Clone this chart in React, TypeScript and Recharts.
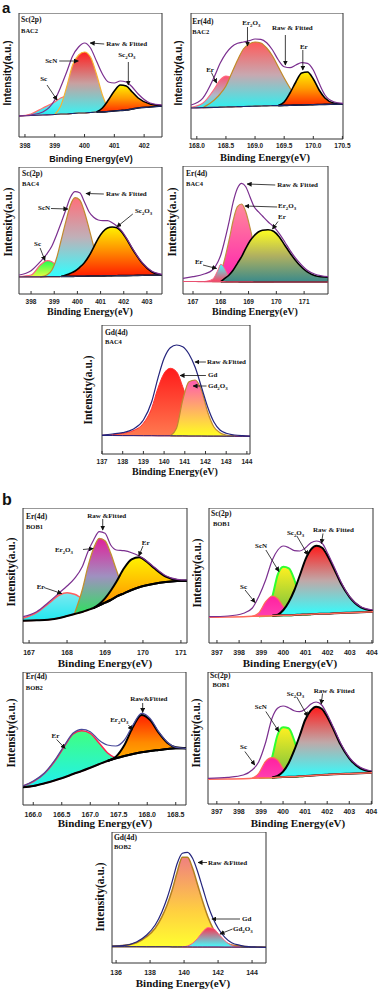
import React from "react";
import { ComposedChart, Area, Line, XAxis, YAxis, ReferenceArea, ReferenceLine, ReferenceDot } from "recharts";

const SERIF = "'Liberation Serif', 'Times New Roman', serif";
const SANS = "'Liberation Sans', Arial, sans-serif";
const N = null;

// a: Sc(2p) BAC2
const a1E = [397.8, 398.2, 398.6, 399.0, 399.2, 399.4, 399.6, 399.8, 400.0, 400.2, 400.4, 400.6, 400.8, 401.0, 401.2, 401.4, 401.6, 401.8, 402.2, 402.6];
const a1Bg = [21, 21.5, 22, 22.5, 23, 23, 23.5, 24, 24, 24.5, 25, 25, 25.5, 26, 26.5, 27, 28, 29, 30, 31];
const a1Sc = [21, 23, 29, 35, 39, 41, 39, 37, 33, 30, 27, 25, N, N, N, N, N, N, N, N];
const a1ScN = [N, N, N, 22.5, 31, 50, 72, 82, 85, 80, 63, 42, 29, 26, N, N, N, N, N, N];
const a1Sc2O3 = [N, N, N, N, N, N, N, N, N, N, 25, 29, 37, 46, 52, 51, 45, 39, 33, 31.5];
const a1Env = [21, 22, 25, 37, 50, 65, 81, 90, 94, 89, 76, 63, 55, 54, 56, 55, 50, 43, 34, 32];

// a: Er(4d) BAC2
const a2E = [167.9, 168.1, 168.3, 168.4, 168.5, 168.6, 168.7, 168.8, 168.9, 169.0, 169.1, 169.2, 169.3, 169.4, 169.5, 169.6, 169.7, 169.8, 169.9, 170.0, 170.1, 170.2, 170.35, 170.51];
const a2Bg = [31, 31.3, 31.6, 31.8, 32, 32.2, 32.3, 32.5, 32.7, 32.8, 33, 33.1, 33.3, 33.4, 33.6, 33.7, 33.9, 34, 34.2, 34.3, 34.5, 34.6, 34.8, 35];
const a2ErA = [31.7, 35.7, 50, 59, 63, 61, 53, 44, 37, 34, 33, N, N, N, N, N, N, N, N, N, N, N, N, N];
const a2Er2O3 = [N, 31.3, 39, 45, 53, 66, 79, 90, 95, 97, 96, 91, 83, 72, 61, 51, 42, 37, 35, 34.3, N, N, N, N];
const a2ErB = [N, N, N, N, N, N, N, N, N, N, N, N, N, 33.4, 37, 46, 57, 66, 67, 60, 49, 41, 36, 35];
const a2Env = [34, 40.7, 62.3, 75.7, 85.7, 92.3, 95.7, 97, 98.3, 100, 99.7, 96.3, 89, 79, 72.3, 71.3, 74, 76.3, 75.7, 69, 55.7, 44, 37.3, 35.7];

// a: Sc(2p) BAC4
const a3E = [397.48, 398.0, 398.4, 398.7, 398.9, 399.1, 399.3, 399.5, 399.7, 399.9, 400.1, 400.3, 400.5, 400.7, 400.9, 401.1, 401.3, 401.5, 401.7, 401.9, 402.1, 402.4, 402.8, 403.2, 403.65];
const a3Bg = [17, 17.1, 17.2, 17.3, 17.4, 17.4, 17.5, 17.6, 17.6, 17.7, 17.8, 17.8, 17.9, 18, 18, 18.1, 18.2, 18.2, 18.3, 18.4, 18.4, 18.5, 18.7, 18.8, 19];
const a3Sc = [17.5, 19, 29, 33.3, 32.3, 28, 22.3, 19, 17.6, N, N, N, N, N, N, N, N, N, N, N, N, N, N, N, N];
const a3ScN = [N, N, 17.2, 19.3, 24, 35.7, 54, 72.3, 89, 96.3, 94, 82.3, 65.7, 48, 34, 24, 19.7, 18.2, N, N, N, N, N, N, N];
const a3Sc2O3 = [N, N, N, N, N, N, 17.5, 19, 20.7, 23, 26.7, 31.3, 38, 46.7, 55.7, 62.3, 66, 67, 66.3, 62.3, 55.7, 44, 30.7, 22.3, 19];
const a3Env = [19, 23.3, 32.3, 40.7, 48, 59, 71.3, 84, 96.7, 102.3, 101.3, 92.3, 82.3, 76.7, 74, 73.3, 73.3, 71.3, 68, 63.3, 56.7, 44.7, 31.3, 23, 19.7];

// a: Er(4d) BAC4
const a4E = [166.64, 167.0, 167.4, 167.7, 167.9, 168.0, 168.1, 168.3, 168.45, 168.6, 168.75, 168.9, 169.05, 169.2, 169.35, 169.5, 169.7, 169.9, 170.1, 170.3, 170.5, 170.8, 171.1, 171.4, 171.86];
const a4Bg = [12.5, 12.5, 12.4, 12.4, 12.3, 12.3, 12.3, 12.2, 12.2, 12.2, 12.1, 12.1, 12.1, 12, 12, 12, 12, 12, 12, 12, 12, 12, 12, 12, 12];
const a4ErA = [N, N, 12.4, 14.7, 24, 29.7, 27.3, 17.3, 12.2, N, N, N, N, N, N, N, N, N, N, N, N, N, N, N, N];
const a4Er2O3 = [N, N, N, 12.4, 16.7, 22.3, 30.7, 54, 74, 87.3, 90, 82.3, 66.7, 48, 31.3, 20.7, 14.7, 12, N, N, N, N, N, N, N];
const a4ErB = [N, N, N, N, N, 12.3, 14.7, 19, 24, 30.7, 37.3, 45.7, 53, 58.3, 62, 63.7, 64.3, 62.7, 57.3, 49, 40.7, 30, 22.3, 18.3, 16.7];
const a4Env = [15.7, 17.3, 20, 24, 32.3, 39, 49, 72.3, 92.3, 105.7, 110.7, 107.3, 97.3, 87.3, 82.3, 78, 72.3, 67.3, 60.7, 52.3, 43.3, 32.3, 24, 19.7, 17.3];

// a: Gd(4d) BAC4
const a5E = [137.0, 137.5, 138.0, 138.5, 139.0, 139.4, 139.7, 140.0, 140.3, 140.6, 140.9, 141.2, 141.5, 141.8, 142.1, 142.4, 142.7, 143.0, 143.4, 143.8, 144.15];
const a5Bg = [18.5, 18.5, 18.4, 18.4, 18.3, 18.3, 18.2, 18.2, 18.2, 18.1, 18.1, 18, 18, 18, 17.9, 17.9, 17.9, 17.8, 17.8, 17.7, 17.7];
const a5Gd = [18.7, 19.3, 20.7, 23.3, 30.7, 45.7, 65.7, 80.7, 85.7, 82.3, 67.3, 48, 34, 25.7, 21.7, 20, 19, 18.3, 17.9, 17.8, 17.7];
const a5Gd2O3 = [N, N, N, N, N, N, N, N, 18.2, 25.7, 54, 72.3, 74, 64, 42.3, 27.3, 21.3, 19, 17.8, N, N];
const a5Env = [19, 20, 21.3, 24.7, 34, 52.3, 75.7, 95.7, 106.3, 109, 107.3, 100, 86.7, 67.3, 47.3, 32.3, 24, 20.7, 19, 18.3, 18];

// b: Er(4d) BOB1
const b1E = [166.84, 167.2, 167.5, 167.8, 168.0, 168.2, 168.4, 168.55, 168.7, 168.85, 169.0, 169.15, 169.3, 169.5, 169.7, 169.9, 170.1, 170.3, 170.6, 170.9, 171.16];
const b1Bg = [22.3, 22.7, 23.3, 25, 27, 29, 31, 33, 35, 37.7, 40.3, 43, 46.3, 49.7, 53, 55.7, 57.7, 59.3, 61, 62, 62.3];
const b1ErA = [24.7, 30.3, 39, 48, 50.3, 48.7, 44.7, 42.3, 40.3, 37.7, N, N, N, N, N, N, N, N, N, N, N];
const b1Er2O3 = [N, N, N, N, N, 29.7, 53, 76.3, 94.7, 104.7, 102.3, 89.7, 73, 54.7, 53, N, N, N, N, N, N];
const b1ErB = [N, N, N, N, N, N, N, N, 35, 39, 44.7, 52.3, 61.3, 74.7, 83.7, 85.7, 81.3, 74.7, 66.3, 63, 62.3];
const b1Env = [26.3, 31.3, 40.3, 50.3, 57, 64.7, 76.3, 91.3, 103, 111.3, 109.7, 98, 93, 92.3, 90.3, 87, 82, 75.7, 67.3, 63.7, 63];

// b: Sc(2p) BOB1 (upper)
const b2E = [396.64, 397.5, 398.2, 398.6, 398.9, 399.2, 399.5, 399.75, 400.0, 400.25, 400.5, 400.75, 401.0, 401.25, 401.5, 401.75, 402.0, 402.3, 402.6, 403.0, 403.5, 404.05];
const b2Bg = [25.7, 26, 26.3, 26.7, 26.8, 27, 27.3, 27.5, 27.7, 27.8, 28, 28.3, 28.5, 28.7, 29, 29.2, 29.3, 29.7, 30, 30.3, 30.7, 31.3];
const b2Sc = [N, N, N, 26.7, 30.3, 41.3, 47, 44.3, 36.3, 30.3, 28, N, N, N, N, N, N, N, N, N, N, N];
const b2ScN = [N, N, N, N, 26.8, 28.7, 46.3, 68.7, 76.3, 74.7, 63, 44.7, 32, 28.7, N, N, N, N, N, N, N, N];
const b2Sc2O3 = [N, N, N, N, N, N, 27.3, 28.3, 33, 41.3, 53, 68, 83.7, 93.7, 97.3, 95.3, 87, 73.7, 59.7, 45.7, 35.7, 32.3];
const b2Env = [26.3, 27, 29.7, 35, 47, 63, 83, 93, 97, 95.3, 92.3, 92, 95.3, 100.3, 102, 99.7, 89.7, 75.7, 61.3, 46.3, 36.3, 33];

// b: Er(4d) BOB2
const b3E = [165.82, 166.0, 166.2, 166.4, 166.55, 166.7, 166.85, 167.0, 167.15, 167.3, 167.45, 167.6, 167.75, 167.9, 168.05, 168.2, 168.35, 168.5, 168.68];
const b3Bg = [17.7, 19, 21.7, 25, 27.7, 31, 34, 37.3, 40.7, 44, 46.7, 49, 51, 52.7, 54, 55, 56, 56.7, 56.7];
const b3Er = [19, 23.3, 31.7, 45.7, 59, 71, 74.3, 71.7, 62.3, 52.3, 46.7, N, N, N, N, N, N, N, N];
const b3Er2O3 = [N, N, N, N, N, N, N, N, N, 44, 48.3, 60, 78.3, 90, 85, 72.3, 62.3, 57.7, 56.7];
const b3Env = [19, 24, 32.3, 46.7, 60, 72, 75.7, 73.3, 65, 60, 59, 65, 80, 91.7, 86.7, 73.3, 63, 57.7, 56.7];

// b: Sc(2p) BOB1 (lower)
const b4E = [396.6, 397.5, 398.2, 398.6, 398.9, 399.2, 399.5, 399.75, 400.0, 400.25, 400.5, 400.75, 401.0, 401.25, 401.5, 401.75, 402.0, 402.3, 402.6, 403.0, 403.5, 404.03];
const b4Bg = [24.7, 25, 25.3, 25.7, 26, 26.2, 26.3, 26.7, 27, 27.2, 27.3, 27.7, 28, 28.3, 28.7, 29, 29.3, 29.7, 30, 30.3, 30.7, 31.3];
const b4Sc = [N, N, N, 25.7, 30.7, 42.3, 46.3, 44, 35.7, 29.7, 27.3, N, N, N, N, N, N, N, N, N, N, N];
const b4ScN = [N, N, N, N, 26, 28, 46.3, 69, 76.7, 75.7, 64, 45.7, 32.3, 28.3, N, N, N, N, N, N, N, N];
const b4Sc2O3 = [N, N, N, N, N, N, 26.3, 28, 32.3, 40.7, 53.3, 68, 84, 93.3, 97.3, 95.3, 87.3, 74, 59.7, 45.7, 35.7, 32.3];
const b4Env = [25.7, 26.7, 29, 34, 42.3, 60.7, 85.7, 95.7, 98, 96.3, 93.3, 92.3, 94.7, 99.7, 102, 99, 89.7, 75.7, 61.3, 46.7, 36.7, 33];

// b: Gd(4d) BOB2
const b5E = [135.76, 136.5, 137.2, 137.8, 138.3, 138.7, 139.0, 139.3, 139.6, 139.9, 140.2, 140.5, 140.8, 141.1, 141.4, 141.7, 142.0, 142.4, 142.8, 143.3, 143.8, 144.3, 144.82];
const b5Bg = [16.3, 16.3, 16.3, 16.2, 16.2, 16.2, 16.2, 16.1, 16.1, 16.1, 16.1, 16, 16, 16, 16, 16, 16, 15.9, 15.9, 15.9, 15.8, 15.8, 15.7];
const b5Gd = [17, 17.7, 20.3, 26.3, 34.7, 46.3, 58, 73, 91.3, 105.7, 105.7, 94.7, 78, 61.3, 46.3, 34.7, 26.3, 20.3, 18, 17, 16.3, 15.9, 15.7];
const b5Gd2O3 = [N, N, N, N, N, N, N, N, N, 16.1, 17, 19.7, 24.7, 31.3, 35.3, 34.7, 29.7, 22.3, 17.7, 15.9, N, N, N];
const b5Env = [17, 17.7, 21, 28, 38, 51.3, 64.7, 81.3, 99.7, 109.7, 110.7, 104.7, 91.3, 74.7, 58, 44.7, 34.7, 25.7, 20.3, 17.7, 16.3, 16, 15.7];

const ticksA1 = [398, 399, 400, 401, 402];
const ticksA2 = [168, 168.5, 169, 169.5, 170, 170.5];
const ticksA3 = [398, 399, 400, 401, 402, 403];
const ticksA4 = [167, 168, 169, 170, 171];
const ticksA5 = [137, 138, 139, 140, 141, 142, 143, 144];
const ticksB1 = [167, 168, 169, 170, 171];
const ticksSc = [397, 398, 399, 400, 401, 402, 403, 404];
const ticksB3 = [166, 166.5, 167, 167.5, 168, 168.5];
const ticksB5 = [136, 138, 140, 142, 144];

type Comp = { key: string; values: (number | null)[]; stroke: string; width: number; stops: [number, string][] };
type Note = { t: string; x: number; y: number; chem?: boolean; size?: number };
type Panel = {
  id: string; left: number; top: number; width: number; height: number;
  domain: [number, number]; ticks: number[]; digits: number; tickGap: number; tickFont: number;
  energy: number[]; bg: number[]; bgStroke: string; bgWidth: number;
  env: number[]; envStroke: string; comps: Comp[]; notes: Note[]; arrows: number[][];
};

const PURPLE = "#7b2f8f";
const NAVY = "#24247c";
const yellowRed: [number, string][] = [[0, "#fff200"], [0.5, "#ff9a00"], [1, "#ff2a00"]];

const panels: Panel[] = [
  {
    id: "a1", left: 19, top: 13, width: 143, height: 124, domain: [397.8, 402.6], ticks: ticksA1, digits: 0, tickGap: 8, tickFont: 6.5,
    energy: a1E, bg: a1Bg, bgStroke: "#1c2a6a", bgWidth: 1.2, env: a1Env, envStroke: PURPLE,
    comps: [
      { key: "sc", values: a1Sc, stroke: "#ff6f6f", width: 1.2, stops: [[0, "#7ef4f4"], [1, "#22e8f0"]] },
      { key: "scn", values: a1ScN, stroke: "#f5b335", width: 1.2, stops: [[0, "#ff1f1f"], [0.5, "#c8a0a0"], [1, "#3af2f2"]] },
      { key: "ox", values: a1Sc2O3, stroke: "#000", width: 1.6, stops: yellowRed },
    ],
    notes: [
      { t: "Sc(2p)", x: 397.87, y: 118, size: 7.5 }, { t: "BAC2", x: 397.87, y: 107, size: 6.5 },
      { t: "Raw & Fitted", x: 400.73, y: 93 }, { t: "ScN", x: 398.68, y: 76 }, { t: "Sc", x: 398.51, y: 58 },
      { t: "Sc2O3", x: 401.13, y: 82, chem: true },
    ],
    arrows: [[400.66, 93, 400.19, 94], [399.15, 76, 399.79, 76], [398.74, 52, 399.08, 37], [401.47, 75, 401.47, 52]],
  },
  {
    id: "a2", left: 191, top: 13, width: 152, height: 126, domain: [167.9, 170.51], ticks: ticksA2, digits: 1, tickGap: 6.5, tickFont: 6.5,
    energy: a2E, bg: a2Bg, bgStroke: "#1c2a6a", bgWidth: 1.2, env: a2Env, envStroke: PURPLE,
    comps: [
      { key: "era", values: a2ErA, stroke: "#ff6a80", width: 1.2, stops: [[0, "#ff5070"], [0.6, "#b0b8c8"], [1, "#2ff0f0"]] },
      { key: "ox", values: a2Er2O3, stroke: "#c08a28", width: 1.2, stops: [[0, "#ff5a5a"], [0.5, "#c8a8b0"], [1, "#2ff0f0"]] },
      { key: "erb", values: a2ErB, stroke: "#000", width: 1.6, stops: yellowRed },
    ],
    notes: [
      { t: "Er(4d)", x: 167.92, y: 118, size: 7.5 }, { t: "BAC2", x: 167.92, y: 108, size: 6.5 },
      { t: "Er2O3", x: 168.78, y: 116.3, chem: true }, { t: "Raw & Fitted", x: 169.29, y: 111 },
      { t: "Er", x: 169.77, y: 92 }, { t: "Er", x: 168.16, y: 69 },
    ],
    arrows: [[168.87, 112, 168.87, 93], [169.52, 104, 169.52, 74], [169.82, 89, 169.82, 69], [168.25, 66.5, 168.34, 56]],
  },
  {
    id: "a3", left: 19, top: 167, width: 143, height: 127, domain: [397.48, 403.65], ticks: ticksA3, digits: 0, tickGap: 7, tickFont: 6.5,
    energy: a3E, bg: a3Bg, bgStroke: "#30305a", bgWidth: 1.2, env: a3Env, envStroke: PURPLE,
    comps: [
      { key: "sc", values: a3Sc, stroke: "#ff6080", width: 1.2, stops: [[0, "#20ff50"], [1, "#e8ff40"]] },
      { key: "scn", values: a3ScN, stroke: "#c08a30", width: 1.2, stops: [[0, "#ff6f7a"], [0.5, "#c0b0b8"], [1, "#30ffff"]] },
      { key: "ox", values: a3Sc2O3, stroke: "#000", width: 1.6, stops: [[0, "#fff200"], [0.5, "#ff8a00"], [1, "#ff1a00"]] },
    ],
    notes: [
      { t: "Sc(2p)", x: 397.61, y: 121, size: 7.5 }, { t: "BAC4", x: 397.61, y: 111, size: 6.5 },
      { t: "Raw & Fitted", x: 401.23, y: 100 }, { t: "ScN", x: 398.3, y: 86 },
      { t: "Sc2O3", x: 402.48, y: 83, chem: true }, { t: "Sc", x: 398.13, y: 50 },
    ],
    arrows: [[401.14, 100, 400.37, 100.5], [398.86, 85.5, 399.59, 85], [402.39, 80, 401.7, 67], [398.39, 46, 398.6, 33.5]],
  },
  {
    id: "a4", left: 183, top: 166, width: 145, height: 128, domain: [166.64, 171.86], ticks: ticksA4, digits: 0, tickGap: 7.5, tickFont: 6.5,
    energy: a4E, bg: a4Bg, bgStroke: "#e85070", bgWidth: 1.2, env: a4Env, envStroke: PURPLE,
    comps: [
      { key: "ox", values: a4Er2O3, stroke: "#c09040", width: 1.2, stops: [[0, "#ff8a9a"], [1, "#ff20b0"]] },
      { key: "era", values: a4ErA, stroke: "#ff6080", width: 1, stops: [[0, "#40ffff"], [1, "#ff4060"]] },
      { key: "erb", values: a4ErB, stroke: "#000", width: 1.6, stops: [[0, "#ffff20"], [0.5, "#b0b060"], [1, "#3a8a8a"]] },
    ],
    notes: [
      { t: "Er(4d)", x: 166.75, y: 121, size: 7.5 }, { t: "BAC4", x: 166.75, y: 111, size: 6.5 },
      { t: "Raw & Fitted", x: 170.03, y: 109 }, { t: "Er2O3", x: 170.06, y: 88, chem: true },
      { t: "Er", x: 170.06, y: 77 }, { t: "Er", x: 167.07, y: 32 },
    ],
    arrows: [[169.96, 109, 168.95, 110], [170.03, 87, 168.87, 88], [170.06, 72.5, 169.86, 65], [167.36, 29, 167.85, 25.5]],
  },
  {
    id: "a5", left: 102, top: 325, width: 148, height: 129, domain: [137, 144.15], ticks: ticksA5, digits: 0, tickGap: 7, tickFont: 6.5,
    energy: a5E, bg: a5Bg, bgStroke: NAVY, bgWidth: 1, env: a5Env, envStroke: NAVY,
    comps: [
      { key: "gd", values: a5Gd, stroke: "#ff3030", width: 1, stops: [[0, "#ff1a1a"], [1, "#ff7a50"]] },
      { key: "ox", values: a5Gd2O3, stroke: "#c08a30", width: 1.2, stops: [[0, "#ff5ab0"], [1, "#ffff20"]] },
    ],
    notes: [
      { t: "Gd(4d)", x: 137.14, y: 122, size: 7.5 }, { t: "BAC4", x: 137.14, y: 113, size: 6.5 },
      { t: "Raw &Fitted", x: 142.07, y: 92 }, { t: "Gd", x: 142.12, y: 79 }, { t: "Gd2O3", x: 142.12, y: 68, chem: true },
    ],
    arrows: [[142.02, 92, 141.49, 92], [142.02, 78.5, 140.77, 78.5], [142.05, 68, 141.4, 68]],
  },
  {
    id: "b1", left: 23, top: 508, width: 164, height: 135, domain: [166.84, 171.16], ticks: ticksB1, digits: 0, tickGap: 9, tickFont: 7,
    energy: b1E, bg: b1Bg, bgStroke: "#000", bgWidth: 2, env: b1Env, envStroke: PURPLE,
    comps: [
      { key: "era", values: b1ErA, stroke: "#ff6060", width: 1.5, stops: [[0, "#7ee8f0"], [1, "#20e8f0"]] },
      { key: "ox", values: b1Er2O3, stroke: "#c09030", width: 1.3, stops: [[0, "#e0209a"], [0.5, "#a090c0"], [1, "#30e060"]] },
      { key: "erb", values: b1ErB, stroke: "#000", width: 2, stops: [[0, "#fff200"], [1, "#ff8a00"]] },
    ],
    notes: [
      { t: "Er(4d)", x: 166.92, y: 127, size: 7.5 }, { t: "BOB1", x: 166.92, y: 117, size: 6.5 },
      { t: "Raw &Fitted", x: 168.53, y: 127 }, { t: "Er2O3", x: 167.68, y: 93, chem: true },
      { t: "Er", x: 169.97, y: 100 }, { t: "Er", x: 167.2, y: 56 },
    ],
    arrows: [[168.94, 124, 168.94, 113], [168.42, 93.5, 168.69, 94.5], [170.0, 97, 169.89, 87], [167.39, 55.5, 167.86, 49.5]],
  },
  {
    id: "b2", left: 209, top: 508, width: 164, height: 135, domain: [396.64, 404.05], ticks: ticksSc, digits: 0, tickGap: 9, tickFont: 7,
    energy: b2E, bg: b2Bg, bgStroke: "#ff6a5a", bgWidth: 1.5, env: b2Env, envStroke: PURPLE,
    comps: [
      { key: "scn", values: b2ScN, stroke: "#30ff30", width: 2, stops: [[0, "#fff020"], [1, "#70c040"]] },
      { key: "sc", values: b2Sc, stroke: "#ff6a5a", width: 1.2, stops: [[0, "#ff20a0"], [1, "#ff40b0"]] },
      { key: "ox", values: b2Sc2O3, stroke: "#000", width: 2, stops: [[0, "#ff1a1a"], [0.5, "#c0a8a8"], [1, "#30ffff"]] },
    ],
    notes: [
      { t: "Sc(2p)", x: 396.73, y: 130, size: 7.5 }, { t: "BOB1", x: 396.82, y: 120, size: 6.5 },
      { t: "Raw & Fitted", x: 401.34, y: 113 }, { t: "Sc2O3", x: 400.16, y: 110.5, chem: true },
      { t: "ScN", x: 398.72, y: 97 }, { t: "Sc", x: 398.04, y: 56.5 },
    ],
    arrows: [[401.79, 109.5, 401.72, 99.5], [400.61, 107, 401.11, 88], [399.21, 93, 399.8, 71.5], [398.27, 53, 398.72, 40.5]],
  },
  {
    id: "b3", left: 23, top: 672, width: 163, height: 133, domain: [165.82, 168.68], ticks: ticksB3, digits: 1, tickGap: 9.5, tickFont: 7,
    energy: b3E, bg: b3Bg, bgStroke: "#000", bgWidth: 2, env: b3Env, envStroke: "#4b4b9b",
    comps: [
      { key: "er", values: b3Er, stroke: "#ff2050", width: 1.5, stops: [[0, "#40ff80"], [1, "#20f0f0"]] },
      { key: "ox", values: b3Er2O3, stroke: "#000", width: 2, stops: [[0, "#ff2000"], [0.6, "#ff8a00"], [1, "#ffb000"]] },
    ],
    notes: [
      { t: "Er(4d)", x: 165.87, y: 129, size: 7.5 }, { t: "BOB2", x: 165.87, y: 118, size: 6.5 },
      { t: "Raw&Fitted", x: 167.7, y: 106 }, { t: "Er2O3", x: 167.35, y: 85, chem: true }, { t: "Er", x: 166.32, y: 69 },
    ],
    arrows: [[167.92, 102, 167.92, 92.5], [167.67, 80, 167.74, 75], [166.41, 65.5, 166.56, 56.5]],
  },
  {
    id: "b4", left: 208, top: 672, width: 164, height: 132, domain: [396.6, 404.03], ticks: ticksSc, digits: 0, tickGap: 7.5, tickFont: 7,
    energy: b4E, bg: b4Bg, bgStroke: "#ff6a5a", bgWidth: 1.5, env: b4Env, envStroke: PURPLE,
    comps: [
      { key: "scn", values: b4ScN, stroke: "#30ff30", width: 2, stops: [[0, "#fff020"], [1, "#70c040"]] },
      { key: "sc", values: b4Sc, stroke: "#ff6a5a", width: 1.2, stops: [[0, "#ff20a0"], [1, "#ff40b0"]] },
      { key: "ox", values: b4Sc2O3, stroke: "#000", width: 2, stops: [[0, "#ff1a1a"], [0.5, "#c0a8a8"], [1, "#30ffff"]] },
    ],
    notes: [
      { t: "Sc(2p)", x: 396.69, y: 129, size: 7.5 }, { t: "BOB1", x: 396.8, y: 119.5, size: 6.5 },
      { t: "Raw & Fitted", x: 401.39, y: 113.5 }, { t: "Sc2O3", x: 400.17, y: 110.5, chem: true },
      { t: "ScN", x: 398.72, y: 97 }, { t: "Sc", x: 398.05, y: 57 },
    ],
    arrows: [[401.79, 110.5, 401.73, 100], [400.62, 107, 401.12, 87.5], [399.22, 92.5, 399.81, 72.5], [398.27, 52.5, 398.72, 39]],
  },
  {
    id: "b5", left: 112, top: 832, width: 154, height: 131, domain: [135.76, 144.82], ticks: ticksB5, digits: 0, tickGap: 9, tickFont: 7,
    energy: b5E, bg: b5Bg, bgStroke: NAVY, bgWidth: 1, env: b5Env, envStroke: NAVY,
    comps: [
      { key: "gd", values: b5Gd, stroke: "#b08020", width: 1.5, stops: [[0, "#f08080"], [0.6, "#ffd040"], [1, "#ffff30"]] },
      { key: "ox", values: b5Gd2O3, stroke: "#ff6080", width: 1, stops: [[0, "#ff3050"], [1, "#40ffff"]] },
    ],
    notes: [
      { t: "Gd(4d)", x: 135.88, y: 126, size: 7.5 }, { t: "BOB2", x: 135.88, y: 117, size: 6.5 },
      { t: "Raw &Fitted", x: 141.41, y: 100.5 }, { t: "Gd", x: 143.41, y: 44 }, { t: "Gd2O3", x: 142.88, y: 34.5, chem: true },
    ],
    arrows: [[141.35, 100.5, 140.82, 100.5], [143.29, 44, 141.64, 44], [142.85, 34, 142.11, 29]],
  },
];

// axis titles, y labels and panel letters (page coordinates)
const xTitles = [
  { x: 91, y: 159, font: SANS, size: 9 },
  { x: 265, y: 157, font: SERIF, size: 10.5 },
  { x: 90, y: 311, font: SERIF, size: 10 },
  { x: 255, y: 311, font: SERIF, size: 10 },
  { x: 175, y: 471, font: SERIF, size: 10 },
  { x: 105, y: 663, font: SERIF, size: 11 },
  { x: 290, y: 663, font: SERIF, size: 11 },
  { x: 105, y: 823, font: SERIF, size: 11 },
  { x: 298, y: 823, font: SERIF, size: 11 },
  { x: 183, y: 983, font: SERIF, size: 11 },
];
const yTitles = [
  { x: 7, y: 73, font: SANS, size: 10 },
  { x: 178, y: 73, font: SANS, size: 10 },
  { x: 8, y: 222, font: SERIF, size: 11.5 },
  { x: 172, y: 222, font: SERIF, size: 11.5 },
  { x: 88, y: 390, font: SERIF, size: 11.5 },
  { x: 11, y: 572, font: SERIF, size: 11.5 },
  { x: 197, y: 573, font: SERIF, size: 11.5 },
  { x: 11, y: 733, font: SERIF, size: 11.5 },
  { x: 196, y: 733, font: SERIF, size: 11.5 },
  { x: 100, y: 897, font: SERIF, size: 11.5 },
];

function chemText(t: string, size: number) {
  const parts = t.split(/(\d)/).filter(Boolean);
  let sub = false;
  return parts.map((s, i) => {
    const num = /^\d$/.test(s);
    const dy = num && !sub ? size * 0.3 : !num && sub ? -size * 0.3 : 0;
    sub = num;
    return (
      <tspan key={i} dy={dy || undefined} fontSize={num ? size * 0.7 : size}>{s}</tspan>
    );
  });
}

function PanelChart({ p }: { p: Panel }) {
  const pad = 16;
  const data = p.energy.map((e, i) => {
    const row: any = { e, bg: p.bg[i], env: p.env[i] };
    p.comps.forEach((c) => { row[c.key] = c.values[i]; });
    return row;
  });
  const renderTick = (props: any) => (
    <text x={props.x} y={props.y + p.tickGap} textAnchor="middle" dominantBaseline="central"
      fontFamily={SANS} fontWeight="bold" fontSize={p.tickFont} fill="#222">
      {Number(props.payload.value).toFixed(p.digits)}
    </text>
  );
  return (
    <div style={{ position: "absolute", left: p.left - pad, top: p.top }}>
      <ComposedChart width={p.width + pad * 2} height={p.height + 22} data={data}
        margin={{ top: 0, right: pad, bottom: 0, left: pad }}>
        <defs>
          {p.comps.map((c) => (
            <linearGradient key={c.key} id={`${p.id}-${c.key}`} x1="0" y1="0" x2="0" y2="1">
              {c.stops.map(([o, col], i) => <stop key={i} offset={o} stopColor={col} />)}
            </linearGradient>
          ))}
          <marker id={`${p.id}-arr`} markerWidth={5} markerHeight={5} refX={4.5} refY={2.5}
            orient="auto" markerUnits="userSpaceOnUse">
            <path d="M0,0 L5,2.5 L0,5 z" fill="#111" />
          </marker>
        </defs>
        <XAxis type="number" dataKey="e" domain={p.domain} allowDataOverflow ticks={p.ticks} interval={0}
          height={22} axisLine={false} tickSize={-3} tickMargin={3} tickLine={{ stroke: "#333" }} tick={renderTick} />
        <YAxis hide type="number" domain={[0, p.height]} allowDataOverflow />
        {p.comps.map((c) => (
          <Area key={c.key} type="monotone"
            dataKey={(d: any) => (d[c.key] == null ? null : [d.bg, d[c.key]])}
            fill={`url(#${p.id}-${c.key})`} fillOpacity={1} stroke={c.stroke} strokeWidth={c.width}
            dot={false} activeDot={false} isAnimationActive={false} />
        ))}
        <Line type="monotone" dataKey="bg" stroke={p.bgStroke} strokeWidth={p.bgWidth} dot={false} activeDot={false} isAnimationActive={false} />
        <Line type="monotone" dataKey="env" stroke={p.envStroke} strokeWidth={1.2} dot={false} activeDot={false} isAnimationActive={false} />
        <ReferenceArea x1={p.domain[0]} x2={p.domain[1]} y1={0} y2={p.height} fill="none" stroke="#333" strokeWidth={1} />
        {p.arrows.map((a, i) => (
          <ReferenceLine key={`ar${i}`} segment={[{ x: a[0], y: a[1] }, { x: a[2], y: a[3] }]}
            shape={(pr: any) => (
              <line x1={pr.x1} y1={pr.y1} x2={pr.x2} y2={pr.y2} stroke="#111" strokeWidth={0.8}
                markerEnd={`url(#${p.id}-arr)`} />
            )} />
        ))}
        {p.notes.map((n, i) => {
          const size = n.size ?? 7;
          return (
            <ReferenceDot key={`n${i}`} x={n.x} y={n.y} r={0}
              shape={(pr: any) => (
                <text x={pr.cx} y={pr.cy} dominantBaseline="central" fontFamily={SERIF} fontWeight="bold"
                  fontSize={size} fill="#111">
                  {n.chem ? chemText(n.t, size) : n.t}
                </text>
              )} />
          );
        })}
      </ComposedChart>
    </div>
  );
}

export default function App() {
  return (
    <div style={{ position: "absolute", left: 0, top: 0, width: 380, height: 992, background: "#fff", overflow: "hidden" }}>
      {panels.map((p) => <PanelChart key={p.id} p={p} />)}
      <svg width={380} height={992} style={{ position: "absolute", left: 0, top: 0, pointerEvents: "none" }}>
        <text x={2} y={13} fontFamily={SANS} fontWeight="bold" fontSize={15} fill="#111">a</text>
        <text x={2} y={505} fontFamily={SANS} fontWeight="bold" fontSize={16} fill="#111">b</text>
        {xTitles.map((t, i) => (
          <text key={`x${i}`} x={t.x} y={t.y} textAnchor="middle" dominantBaseline="central"
            fontFamily={t.font} fontWeight="bold" fontSize={t.size} fill="#111">Binding Energy(eV)</text>
        ))}
        {yTitles.map((t, i) => (
          <text key={`y${i}`} x={t.x} y={t.y} textAnchor="middle" dominantBaseline="central"
            transform={`rotate(-90 ${t.x} ${t.y})`} fontFamily={t.font} fontWeight="bold" fontSize={t.size} fill="#111">
            Intensity(a.u.)
          </text>
        ))}
      </svg>
    </div>
  );
}
